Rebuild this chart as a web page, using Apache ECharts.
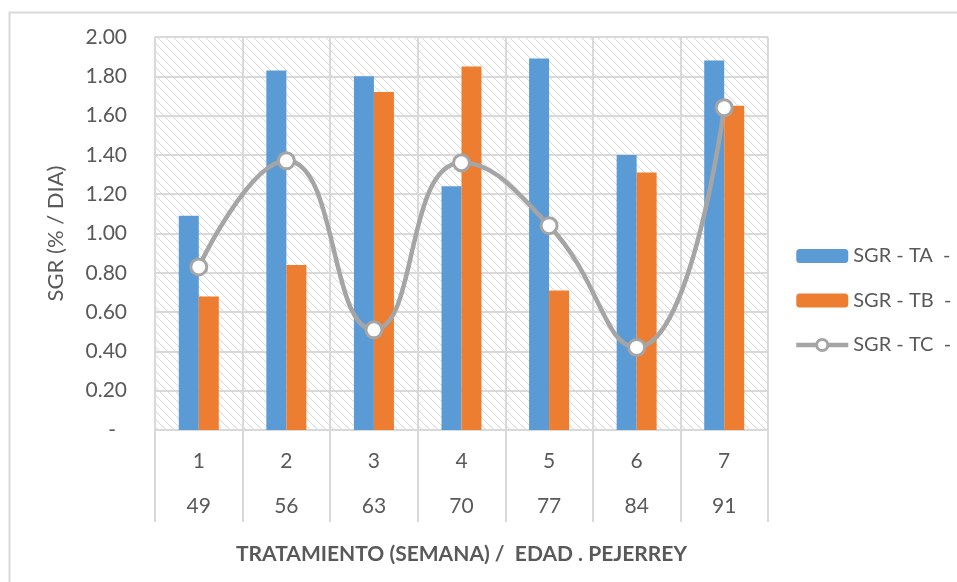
<!DOCTYPE html>
<html>
<head>
<meta charset="utf-8">
<style>
  html, body { margin: 0; padding: 0; background: #ffffff; }
  #chart { width: 957px; height: 582px; }
</style>
<script src="https://cdn.jsdelivr.net/npm/echarts@6/dist/echarts.min.js"></script>
</head>
<body>
<div id="chart"></div>
<script>
// Weekly treatment number and pejerrey age (days)
const weeks = ['1', '2', '3', '4', '5', '6', '7'];
const ages = ['49', '56', '63', '70', '77', '84', '91'];

// Specific growth rate (% per day) for each treatment
const sgrTA = [1.09, 1.83, 1.80, 1.24, 1.89, 1.40, 1.88];
const sgrTB = [0.68, 0.84, 1.72, 1.85, 0.71, 1.31, 1.65];
const sgrTC = [0.83, 1.37, 0.51, 1.36, 1.04, 0.42, 1.64];

const seriesNames = ['SGR - TA  -', 'SGR - TB  -', 'SGR - TC  -'];

const FONT = 'Lato, "Noto Sans", sans-serif';
const TEXT = '#595959';
const GRID = '#d9d9d9';
const LINE_GRAY = '#A5A5A5';

// Diagonal hatch tile for the plot background
function hatchTile() {
  const c = document.createElement('canvas');
  c.width = 8; c.height = 8;
  const g = c.getContext('2d');
  g.fillStyle = '#ffffff';
  g.fillRect(0, 0, 8, 8);
  g.fillStyle = '#dedede';
  for (let i = 0; i < 8; i++) {
    g.fillRect(i, i, 1.4, 1);
  }
  return c;
}

const chart = echarts.init(document.getElementById('chart'), null, { renderer: 'canvas' });

chart.setOption({
  animation: false,
  textStyle: { fontFamily: FONT, color: TEXT },
  graphic: [{
    type: 'rect',
    left: 7, top: 10,
    shape: { width: 1000, height: 1000 },
    style: { fill: 'none', stroke: GRID, lineWidth: 2 },
    silent: true,
    z: -10
  }],
  grid: {
    left: 155, right: 189, top: 37, bottom: 152,
    show: true,
    backgroundColor: { image: hatchTile(), repeat: 'repeat' },
    borderWidth: 0
  },
  legend: {
    orient: 'vertical',
    left: 794, top: 246,
    padding: 0,
    itemWidth: 52, itemHeight: 14,
    itemGap: 24.5,
    textStyle: { fontFamily: FONT, fontSize: 20, color: TEXT },
    data: [
      { name: seriesNames[0] },
      { name: seriesNames[1] },
      {
        name: seriesNames[2],
        lineStyle: { color: LINE_GRAY, width: 4.5 },
        itemStyle: { color: '#ffffff', borderColor: LINE_GRAY, borderWidth: 3 }
      }
    ]
  },
  xAxis: {
    type: 'category',
    data: weeks,
    name: 'TRATAMIENTO (SEMANA) /  EDAD . PEJERREY',
    nameLocation: 'middle',
    nameGap: 114,
    nameTextStyle: { fontFamily: FONT, fontSize: 21, fontWeight: 'bold', color: TEXT },
    axisLine: { show: true, lineStyle: { color: GRID, width: 2 } },
    axisTick: { show: true, length: 92, interval: 0, lineStyle: { color: GRID, width: 2 } },
    axisLabel: {
      interval: 0,
      margin: 9,
      fontFamily: FONT, fontSize: 21, color: TEXT,
      lineHeight: 45,
      formatter: (v, i) => v + '\n' + ages[i]
    },
    splitLine: { show: true, interval: 0, lineStyle: { color: GRID, width: 2 } }
  },
  yAxis: {
    type: 'value',
    min: 0, max: 2, interval: 0.2,
    name: 'SGR (% / DIA)',
    nameLocation: 'middle',
    nameGap: 88,
    nameTextStyle: { fontFamily: FONT, fontSize: 22, color: TEXT },
    axisLine: { show: false },
    axisTick: { show: false },
    axisLabel: {
      margin: 28,
      fontFamily: FONT, fontSize: 21, color: TEXT,
      formatter: v => (v === 0 ? '{d|-}' : v.toFixed(2)),
      rich: { d: { fontFamily: FONT, fontSize: 21, color: TEXT, padding: [0, 11, 0, 0] } }
    },
    splitLine: { show: true, lineStyle: { color: GRID, width: 2 } }
  },
  series: [
    {
      name: seriesNames[0], type: 'bar', data: sgrTA,
      barWidth: 20, barGap: '0%',
      itemStyle: { color: '#5B9BD5' }
    },
    {
      name: seriesNames[1], type: 'bar', data: sgrTB,
      barWidth: 20, barGap: '0%',
      itemStyle: { color: '#ED7D31' }
    },
    {
      name: seriesNames[2], type: 'line', data: sgrTC,
      smooth: 0.5,
      symbol: 'circle', symbolSize: 16,
      lineStyle: { color: LINE_GRAY, width: 4.5 },
      itemStyle: { color: '#ffffff', borderColor: LINE_GRAY, borderWidth: 3 },
      z: 5
    }
  ]
});
</script>
</body>
</html>
